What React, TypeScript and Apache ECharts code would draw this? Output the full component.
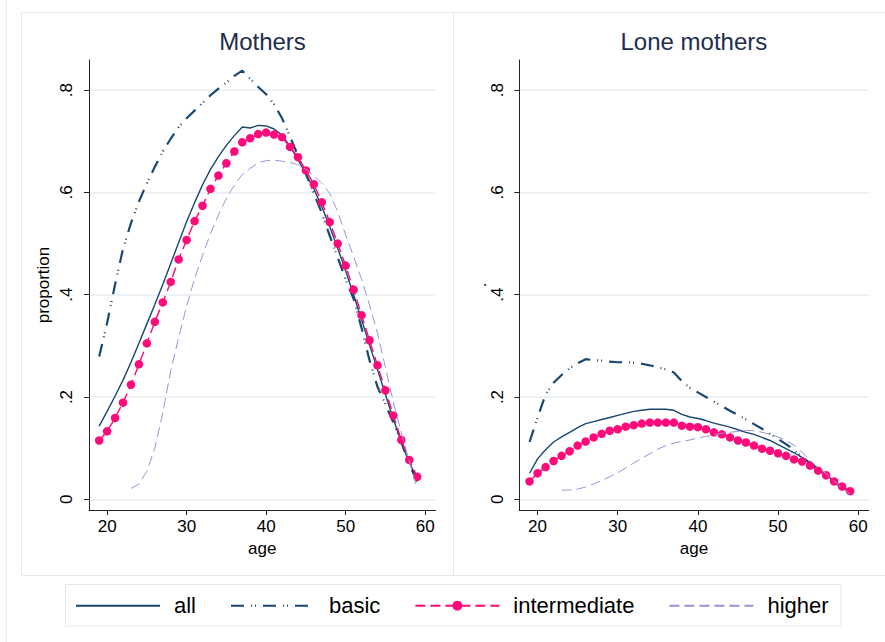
import React, { useEffect, useRef } from "react";
import * as echarts from "echarts";

const ages = [19, 20, 21, 22, 23, 24, 25, 26, 27, 28, 29, 30, 31, 32, 33, 34, 35, 36, 37, 38, 39, 40, 41, 42, 43, 44, 45, 46, 47, 48, 49, 50, 51, 52, 53, 54, 55, 56, 57, 58, 59];
const higherAges = [23, 24, 25, 26, 27, 28, 29, 30, 31, 32, 33, 34, 35, 36, 37, 38, 39, 40, 41, 42, 43, 44, 45, 46, 47, 48, 49, 50, 51, 52, 53, 54, 55, 56, 57, 58, 59];

const mothersAll = [0.143, 0.172, 0.202, 0.233, 0.268, 0.305, 0.343, 0.381, 0.420, 0.461, 0.502, 0.543, 0.580, 0.615, 0.645, 0.670, 0.692, 0.711, 0.728, 0.726, 0.731, 0.730, 0.724, 0.712, 0.690, 0.664, 0.636, 0.607, 0.572, 0.533, 0.491, 0.447, 0.400, 0.351, 0.302, 0.254, 0.205, 0.157, 0.111, 0.072, 0.040];
const mothersBasic = [0.279, 0.345, 0.420, 0.490, 0.540, 0.582, 0.618, 0.650, 0.680, 0.705, 0.728, 0.745, 0.760, 0.775, 0.790, 0.803, 0.815, 0.828, 0.838, 0.822, 0.806, 0.792, 0.772, 0.745, 0.709, 0.672, 0.636, 0.598, 0.560, 0.515, 0.473, 0.430, 0.392, 0.335, 0.272, 0.220, 0.186, 0.150, 0.112, 0.068, 0.035];
const mothersIntermediate = [0.115, 0.133, 0.159, 0.189, 0.224, 0.264, 0.305, 0.347, 0.385, 0.425, 0.469, 0.507, 0.544, 0.574, 0.607, 0.633, 0.657, 0.680, 0.698, 0.706, 0.714, 0.717, 0.713, 0.708, 0.689, 0.669, 0.643, 0.616, 0.581, 0.542, 0.500, 0.457, 0.410, 0.360, 0.311, 0.262, 0.213, 0.164, 0.116, 0.077, 0.044];
const mothersHigher = [0.021, 0.030, 0.055, 0.100, 0.169, 0.252, 0.316, 0.378, 0.431, 0.477, 0.519, 0.556, 0.589, 0.614, 0.635, 0.647, 0.658, 0.662, 0.663, 0.661, 0.659, 0.654, 0.645, 0.633, 0.618, 0.598, 0.562, 0.517, 0.475, 0.430, 0.380, 0.325, 0.258, 0.190, 0.130, 0.075, 0.021];

const loneAll = [0.051, 0.079, 0.097, 0.112, 0.122, 0.131, 0.140, 0.148, 0.152, 0.156, 0.160, 0.164, 0.168, 0.172, 0.174, 0.176, 0.176, 0.176, 0.174, 0.166, 0.161, 0.158, 0.154, 0.149, 0.145, 0.141, 0.136, 0.131, 0.127, 0.121, 0.115, 0.107, 0.099, 0.091, 0.082, 0.072, 0.060, 0.048, 0.036, 0.024, 0.012];
const loneBasic = [0.112, 0.160, 0.205, 0.228, 0.243, 0.256, 0.266, 0.274, 0.272, 0.271, 0.269, 0.268, 0.268, 0.267, 0.265, 0.262, 0.258, 0.254, 0.248, 0.231, 0.218, 0.209, 0.200, 0.191, 0.182, 0.173, 0.165, 0.156, 0.147, 0.138, 0.128, 0.118, 0.108, 0.096, 0.083, 0.070, 0.057, 0.045, 0.034, 0.022, 0.011];
const loneIntermediate = [0.035, 0.051, 0.063, 0.075, 0.085, 0.094, 0.105, 0.113, 0.121, 0.128, 0.134, 0.137, 0.142, 0.145, 0.148, 0.150, 0.150, 0.150, 0.150, 0.144, 0.142, 0.141, 0.137, 0.131, 0.127, 0.121, 0.115, 0.111, 0.105, 0.099, 0.095, 0.090, 0.085, 0.078, 0.074, 0.066, 0.056, 0.047, 0.035, 0.025, 0.016];
const loneHigher = [0.018, 0.018, 0.020, 0.024, 0.030, 0.037, 0.044, 0.052, 0.061, 0.071, 0.080, 0.089, 0.098, 0.105, 0.110, 0.113, 0.116, 0.120, 0.123, 0.126, 0.129, 0.131, 0.133, 0.135, 0.134, 0.131, 0.127, 0.122, 0.115, 0.106, 0.092, 0.076, 0.062, 0.050, 0.036, 0.022, 0.010];

const xTicks = [20, 30, 40, 50, 60];
const yTicks = [0, 0.2, 0.4, 0.6, 0.8];
const panelTitles = ["Mothers", "Lone mothers"];
const yTitles = ["proportion", "."];
const xTitle = "age";
const legendNames = ["all", "basic", "intermediate", "higher"];

const FONT = "'Liberation Sans', Arial, Helvetica, sans-serif";
const NAVY = "#1a476f";
const PINK = "#ff0a7a";
const LAV = "#9b93da";
const TITLE = "#1e2d4f";
const FRAME = "#e1ebeb";

function pairs(xs: number[], ys: number[]) {
  return xs.map((x, i) => [x, ys[i]]);
}

export default function App() {
  const ref = useRef<HTMLDivElement>(null);

  useEffect(() => {
    if (!ref.current) return;
    const chart = echarts.init(ref.current, null, { renderer: "svg" });

    const grids = [
      { left: 89, top: 60, width: 346.5, height: 450 },
      { left: 519.3, top: 60, width: 349.3, height: 450 },
    ];
    const yGaps = [36.7, 30.7];

    const xAxis = grids.map((_, i) => ({
      type: "value",
      gridIndex: i,
      min: 17.72,
      max: 61.3,
      name: xTitle,
      nameLocation: "middle",
      nameGap: 30,
      nameMoveOverlap: false,
      nameTextStyle: { fontSize: 17, color: "#000", fontFamily: FONT },
      axisLine: { show: true, onZero: false, lineStyle: { color: "#222", width: 1 } },
      axisTick: { show: true, length: 5, customValues: xTicks, lineStyle: { color: "#222", width: 1 } },
      axisLabel: { customValues: xTicks, fontSize: 17, color: "#000", margin: 8, fontFamily: FONT },
      splitLine: { show: false },
    }));

    const yAxis = grids.map((_, i) => ({
      type: "value",
      gridIndex: i,
      min: -0.0209,
      max: 0.8589,
      name: yTitles[i],
      nameLocation: "middle",
      nameGap: yGaps[i],
      nameRotate: 90,
      nameMoveOverlap: false,
      nameTextStyle: { fontSize: 17, color: "#000", fontFamily: FONT },
      axisLine: { show: true, onZero: false, lineStyle: { color: "#222", width: 1 } },
      axisTick: { show: true, length: 5, customValues: yTicks, lineStyle: { color: "#222", width: 1 } },
      axisLabel: {
        customValues: yTicks,
        fontSize: 17,
        color: "#000",
        margin: 13.7,
        rotate: 90,
        fontFamily: FONT,
        formatter: (v: number) => (Math.abs(v) < 1e-9 ? "0" : v.toFixed(1).replace(/^0/, "")),
      },
      splitLine: { show: true, lineStyle: { color: "#e6eef1", width: 1.5 } },
    }));

    const panels = [
      { all: mothersAll, basic: mothersBasic, inter: mothersIntermediate, higher: mothersHigher },
      { all: loneAll, basic: loneBasic, inter: loneIntermediate, higher: loneHigher },
    ];

    const series: any[] = [];
    panels.forEach((p, i) => {
      series.push({
        name: legendNames[0],
        type: "line",
        xAxisIndex: i,
        yAxisIndex: i,
        data: pairs(ages, p.all),
        symbol: "none",
        lineStyle: { color: NAVY, width: 1.4 },
        itemStyle: { color: NAVY },
        z: 2,
      });
      series.push({
        name: legendNames[1],
        type: "line",
        xAxisIndex: i,
        yAxisIndex: i,
        data: pairs(ages, p.basic),
        symbol: "none",
        lineStyle: { color: NAVY, width: 2.2, type: [13, 7, 1, 3, 1, 7], cap: "butt" },
        itemStyle: { color: NAVY },
        z: 3,
      });
      series.push({
        name: legendNames[2],
        type: "line",
        xAxisIndex: i,
        yAxisIndex: i,
        data: pairs(ages, p.inter),
        symbol: "circle",
        symbolSize: 8.5,
        showSymbol: true,
        lineStyle: { color: PINK, width: 1.4, type: [10, 5] },
        itemStyle: { color: PINK },
        z: 4,
      });
      series.push({
        name: legendNames[3],
        type: "line",
        xAxisIndex: i,
        yAxisIndex: i,
        data: pairs(higherAges, p.higher),
        symbol: "none",
        lineStyle: { color: LAV, width: 1, type: [10, 5] },
        itemStyle: { color: LAV },
        z: 5,
      });
    });

    const graphic: any[] = [
      { type: "line", silent: true, z: -10, shape: { x1: 6.5, y1: 0, x2: 6.5, y2: 642 }, style: { stroke: "#e8eeee", lineWidth: 1 } },
      { type: "rect", silent: true, z: -10, shape: { x: 21.5, y: 12.5, width: 432, height: 563 }, style: { fill: "none", stroke: FRAME, lineWidth: 1 } },
      { type: "rect", silent: true, z: -10, shape: { x: 453.5, y: 12.5, width: 440, height: 563 }, style: { fill: "none", stroke: FRAME, lineWidth: 1 } },
      { type: "rect", silent: true, z: -10, shape: { x: 65.5, y: 584.5, width: 775.5, height: 41.5 }, style: { fill: "none", stroke: FRAME, lineWidth: 1 } },
      {
        type: "text", silent: true, x: 262.5, y: 41,
        style: { text: panelTitles[0], fontSize: 24, fontFamily: FONT, fill: TITLE, align: "center", verticalAlign: "middle" },
      },
      {
        type: "text", silent: true, x: 693.9, y: 41,
        style: { text: panelTitles[1], fontSize: 24, fontFamily: FONT, fill: TITLE, align: "center", verticalAlign: "middle" },
      },
    ];

    const legendData = legendNames.map((n, i) =>
      i === 2 ? { name: n } : { name: n, itemStyle: { opacity: 0 } }
    );

    chart.setOption({
      animation: false,
      backgroundColor: "#ffffff",
      textStyle: { fontFamily: FONT },
      grid: grids,
      xAxis,
      yAxis,
      series,
      graphic,
      legend: {
        data: legendData,
        left: 75,
        top: 594.7,
        orient: "horizontal",
        padding: 0,
        itemWidth: 84,
        itemHeight: 12.5,
        itemGap: 34,
        selectedMode: false,
        textStyle: { fontSize: 22, color: "#000", fontFamily: FONT, padding: [0, 0, 0, 9], lineHeight: 22 },
      },
    });

    return () => {
      chart.dispose();
    };
  }, []);

  return (
    <div
      ref={ref}
      style={{ position: "fixed", left: 0, top: 0, width: 885, height: 642, background: "#fff" }}
    />
  );
}
